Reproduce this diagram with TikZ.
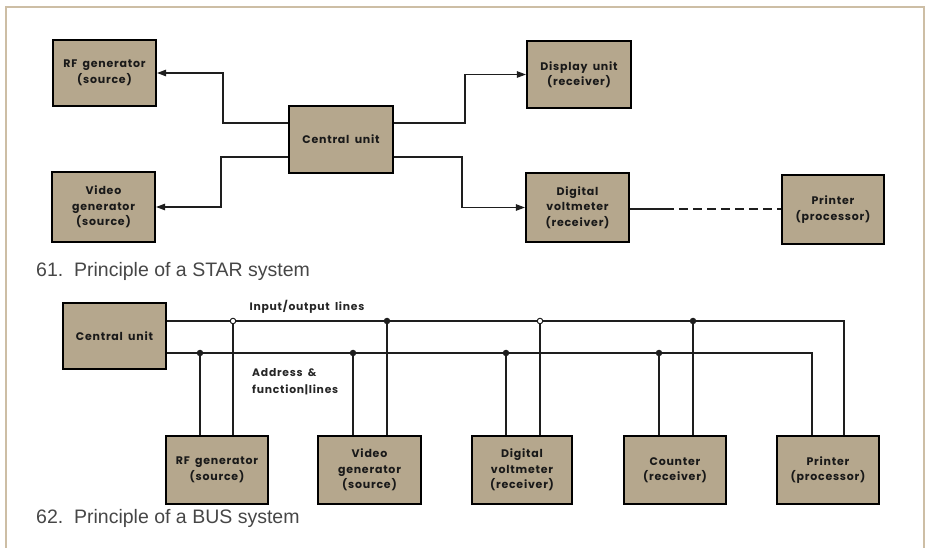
\documentclass[tikz,border=0pt]{standalone}
\usepackage{fontspec}
\setmainfont{Liberation Sans}
\newfontfamily\boxfont[LetterSpace=7,WordSpace=1.7]{Poppins}
\usetikzlibrary{arrows.meta}
\definecolor{boxtan}{RGB}{181,167,141}
\definecolor{framec}{RGB}{205,190,165}
\definecolor{capc}{RGB}{70,70,70}
\definecolor{linec}{RGB}{30,30,30}
\tikzset{
  blk/.style={draw=black, line width=2.2pt, fill=boxtan, align=center,
    font=\boxfont\bfseries\fontsize{11}{15.5}\selectfont, text=black!90,
    inner sep=0pt},
  wire/.style={draw=linec, line width=1.1pt},
  arr/.style={wire, -{Triangle[length=9pt,width=6.5pt]}},
  dashwire/.style={wire, dash pattern=on 9pt off 5pt},
  opendot/.style={circle, draw=linec, fill=white, line width=1pt, minimum size=5.5pt, inner sep=0pt},
  fulldot/.style={circle, fill=linec, minimum size=6.5pt, inner sep=0pt},
  caption/.style={anchor=base west, font=\fontsize{19.5}{22}\selectfont, text=capc, inner sep=0pt},
  wirelabel/.style={font=\boxfont\bfseries\fontsize{10.8}{17}\selectfont, text=black!85, inner sep=0pt}
}
\begin{document}
\begin{tikzpicture}[x=1pt,y=-1pt]
\useasboundingbox (0,0) rectangle (930,548);
% frame
\draw[framec, line width=1.5pt] (6,548) -- (6,7) -- (924,7) -- (924,548);

% ===== STAR =====
\node[blk, minimum width=103pt, minimum height=66pt] (rf1) at (104.5,73) {RF generator\\(source)};
\node[blk, minimum width=103pt, minimum height=70pt] (vid1) at (103.5,207) {Video\\generator\\(source)};
\node[blk, minimum width=104pt, minimum height=67pt] (cu1) at (341,139.5) {Central unit};
\node[blk, minimum width=104pt, minimum height=67pt] (disp) at (579,74.5) {Display unit\\(receiver)};
\node[blk, minimum width=103pt, minimum height=69pt] (dvm1) at (577.5,207.5) {Digital\\voltmeter\\(receiver)};
\node[blk, minimum width=102pt, minimum height=69pt] (prn1) at (833,209.5) {Printer\\(processor)};

\coordinate (ya) at (0,123);
\coordinate (yb) at (0,157);
\coordinate (yc) at (0,209);
\coordinate (sx) at (665,0);

\draw[arr] (cu1.west |- ya) -- (223,123) |- (rf1.east);
\draw[arr] (cu1.west |- yb) -- (221,157) |- (vid1.east);
\draw[arr] (cu1.east |- ya) -- (465,123) |- (disp.west);
\draw[arr] (cu1.east |- yb) -- (462,157) |- (dvm1.west);
\draw[wire] (dvm1.east |- yc) -- (sx |- yc);
\draw[dashwire] (sx |- yc) -- (prn1.west |- yc);

\node[caption] (cap1) at (36,277) {61.\ \ Principle of a STAR system};

% ===== BUS =====
\node[blk, minimum width=103pt, minimum height=66pt] (cu2) at (114.5,336) {Central unit};
\node[blk, minimum width=102pt, minimum height=68pt] (rf2) at (217,470) {RF generator\\(source)};
\node[blk, minimum width=103pt, minimum height=68pt] (vid2) at (369.5,470) {Video\\generator\\(source)};
\node[blk, minimum width=100pt, minimum height=68pt] (dvm2) at (522,470) {Digital\\voltmeter\\(receiver)};
\node[blk, minimum width=102pt, minimum height=68pt] (cnt) at (675,470) {Counter\\(receiver)};
\node[blk, minimum width=102pt, minimum height=68pt] (prn2) at (828,470) {Printer\\(processor)};

\coordinate (io) at (0,321);
\coordinate (ad) at (0,353);
\coordinate (ioEnd) at (844,321);
\coordinate (adEnd) at (812,353);

\draw[wire] (cu2.east |- io) -- (ioEnd) -- (prn2.north -| ioEnd);
\draw[wire] (cu2.east |- ad) -- (adEnd) -- (prn2.north -| adEnd);

% address taps (filled)
\foreach \x/\b in {200/rf2, 353/vid2, 506/dvm2, 659/cnt} {
  \coordinate (t) at (\x,353);
  \draw[wire] (t) -- (\b.north -| t);
  \node[fulldot] at (t) {};
}
% i/o taps
\foreach \x/\b/\s in {233/rf2/opendot, 387/vid2/fulldot, 540/dvm2/opendot, 693/cnt/fulldot} {
  \coordinate (t) at (\x,321);
  \draw[wire] (t) -- (\b.north -| t);
  \node[\s] at (t) {};
}

\node[wirelabel, anchor=center] (iolab) at (307,307) {Input/output lines};
\node[wirelabel, anchor=west] (adlab1) at (252,373) {Address \&};
\node[wirelabel, anchor=west] (adlab2) at (252,390) {function|lines};

\node[caption] (cap2) at (36,523) {62.\ \ Principle of a BUS system};
\end{tikzpicture}
\end{document}
